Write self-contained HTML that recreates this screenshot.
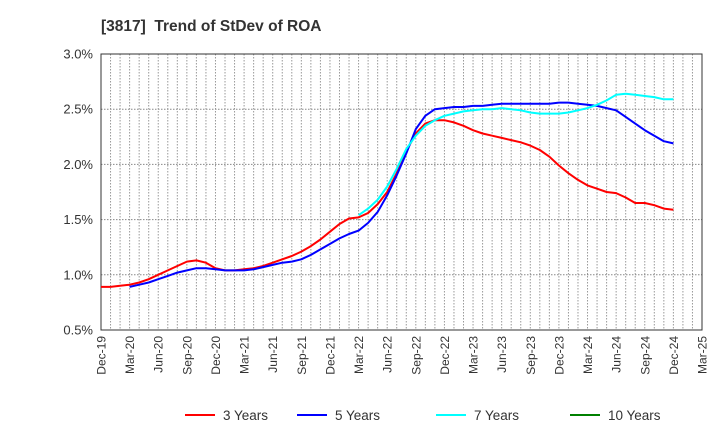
<!DOCTYPE html>
<html><head><meta charset="utf-8"><style>
body{margin:0;background:#fff;font-family:"Liberation Sans",Arial,sans-serif}
svg text{font-family:"Liberation Sans",Arial,sans-serif}
</style></head><body>
<svg id="c" width="720" height="440" xmlns="http://www.w3.org/2000/svg">
<text x="101" y="31" font-size="15.5" font-weight="bold" fill="#333">[3817]&#160; Trend of StDev of ROA</text>
<g id="grid"></g><g id="axes"></g><g id="series"></g><g id="legend"></g>
</svg>
<script>
const xLabels=["Dec-19","Mar-20","Jun-20","Sep-20","Dec-20","Mar-21","Jun-21","Sep-21","Dec-21","Mar-22","Jun-22","Sep-22","Dec-22","Mar-23","Jun-23","Sep-23","Dec-23","Mar-24","Jun-24","Sep-24","Dec-24","Mar-25"];
const yTicks=[0.5,1.0,1.5,2.0,2.5,3.0];
const seriesNames=["3 Years","5 Years","7 Years","10 Years"];
const seriesColors=["#ff0000","#0000ff","#00ffff","#008000"];
const start3=0;
const y3=[0.89,0.89,0.90,0.91,0.93,0.96,1.00,1.04,1.08,1.12,1.13,1.11,1.06,1.04,1.04,1.05,1.06,1.08,1.11,1.14,1.17,1.21,1.26,1.32,1.39,1.46,1.51,1.52,1.56,1.64,1.75,1.92,2.12,2.28,2.37,2.40,2.40,2.38,2.35,2.31,2.28,2.26,2.24,2.22,2.20,2.17,2.13,2.07,1.99,1.92,1.86,1.81,1.78,1.75,1.74,1.70,1.65,1.65,1.63,1.60,1.59];
const start5=3;
const y5=[0.89,0.91,0.93,0.96,0.99,1.02,1.04,1.06,1.06,1.05,1.04,1.04,1.04,1.05,1.07,1.09,1.11,1.12,1.14,1.18,1.23,1.28,1.33,1.37,1.40,1.47,1.57,1.72,1.90,2.10,2.32,2.44,2.50,2.51,2.52,2.52,2.53,2.53,2.54,2.55,2.55,2.55,2.55,2.55,2.55,2.56,2.56,2.55,2.54,2.53,2.51,2.49,2.43,2.37,2.31,2.26,2.21,2.19];
const start7=27;
const y7=[1.54,1.60,1.68,1.80,1.96,2.14,2.26,2.35,2.40,2.44,2.46,2.48,2.49,2.50,2.50,2.51,2.50,2.49,2.47,2.46,2.46,2.46,2.47,2.49,2.51,2.54,2.58,2.63,2.64,2.63,2.62,2.61,2.59,2.59];
const start10=0;
const y10=[];
const NS="http://www.w3.org/2000/svg";
const L=101,R=702,T=54,B=330;
const nMonths=(xLabels.length-1)*3;
const xs=m=>L+(R-L)*m/nMonths;
const ys=v=>B-(v-0.5)/(3.0-0.5)*(B-T);
function mk(tag,attrs,parent){const e=document.createElementNS(NS,tag);for(const k in attrs)e.setAttribute(k,attrs[k]);parent.appendChild(e);return e;}
const grid=document.getElementById('grid'),axes=document.getElementById('axes'),ser=document.getElementById('series'),leg=document.getElementById('legend');
for(let m=1;m<nMonths;m++){const g=mk('line',{x1:xs(m),x2:xs(m),y1:T,y2:B,stroke:'#999','stroke-width':1,'stroke-dasharray':'1.5,1.5'},grid);

}
yTicks.forEach(v=>{if(v>0.5&&v<3.0){const g=mk('line',{x1:L,x2:R,y1:ys(v),y2:ys(v),stroke:'#888','stroke-width':1,'stroke-dasharray':'1.5,1.5'},grid);

}
const t=mk('text',{x:L-8,y:ys(v)+4.5,'text-anchor':'end','font-size':13,fill:'#333'},axes);t.textContent=v.toFixed(1)+'%';

});
xLabels.forEach((s,i)=>{const x=xs(i*3);const t=mk('text',{x:0,y:0,transform:`translate(${x+4.5},${B+6}) rotate(-90)`,'text-anchor':'end','font-size':12,fill:'#333'},axes);t.textContent=s;

});
const frame=mk('rect',{x:L,y:T,width:R-L,height:B-T,fill:'none',stroke:'#333','stroke-width':1},axes);


const all=[[start3,y3],[start5,y5],[start7,y7],[start10,y10]];
all.forEach(([s,arr],k)=>{if(!arr.length)return;const d=arr.map((v,i)=>(i?'L':'M')+xs(s+i).toFixed(1)+','+ys(v).toFixed(1)).join('');
const p=mk('path',{d:d,fill:'none',stroke:seriesColors[k],'stroke-width':2,'stroke-linejoin':'round'},ser);

});
const lx=[185,297,436,570];
seriesNames.forEach((n,k)=>{const g=mk('g',{},leg);


mk('line',{x1:lx[k],x2:lx[k]+30,y1:415,y2:415,stroke:seriesColors[k],'stroke-width':2},g);
const t=mk('text',{x:lx[k]+38,y:420,'font-size':13.5,fill:'#333'},g);t.textContent=n;});
</script>
</body></html>
